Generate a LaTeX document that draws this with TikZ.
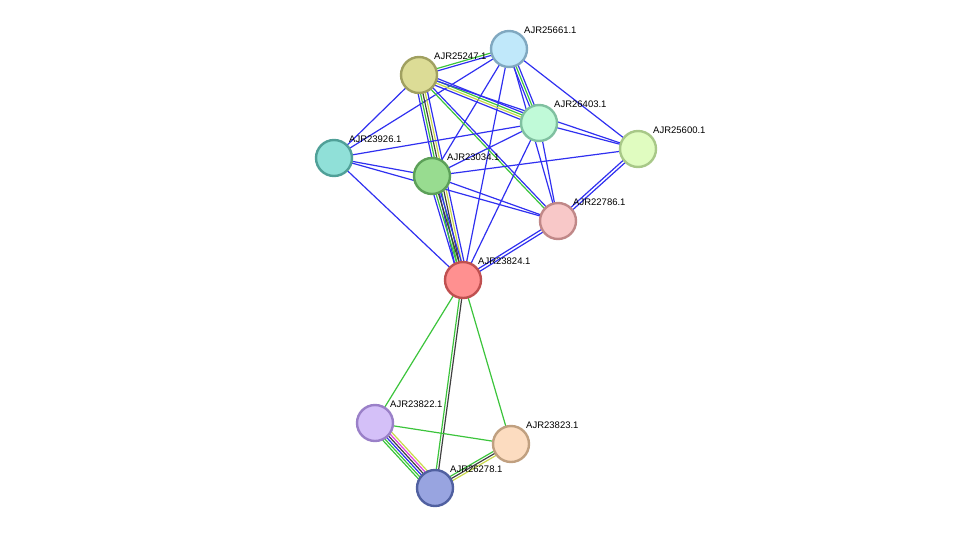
\documentclass[tikz,border=0pt]{standalone}
\usepackage{fontspec}
\setmainfont{Liberation Sans}
\usetikzlibrary{calc}

\definecolor{sgreen}{HTML}{3CC43C}
\definecolor{sblue}{HTML}{3030F0}
\definecolor{syellow}{HTML}{C8D84A}
\definecolor{sblack}{HTML}{404040}
\definecolor{spink}{HTML}{E040E0}

\tikzset{
  edge/.style={line width=1.2pt},
  prot/.style={circle, minimum size=36pt, inner sep=0pt, line width=2.4pt},
  plabel/.style={anchor=south west, inner sep=1pt, font=\fontsize{9.5}{10}\selectfont}
}

% one connector as several parallel coloured lines: colour/offset
\newcommand\bundle[3]{%
  \foreach \c/\o in {#3} {
    \draw[edge,\c] ($(#1)!\o pt!90:(#2)$) -- ($(#2)!\o pt!-90:(#1)$);
  }%
}

% one protein: name, fill, border, label
\newcommand\protein[4]{%
  \definecolor{f#1}{HTML}{#2}\definecolor{d#1}{HTML}{#3}%
  \node[prot, fill=f#1, draw=d#1] (n#1) at (#1) {};
  \node[plabel] (l#1) at ($(#1)+(14,-14)$) {#4};
}

\begin{document}
\begin{tikzpicture}[x=1pt,y=-1pt]
\useasboundingbox (0,0) rectangle (976,533);

% protein positions (pixels)
\coordinate (p25661) at (509,49);
\coordinate (p25247) at (419,75);
\coordinate (p26403) at (539,123);
\coordinate (p25600) at (638,149);
\coordinate (p23926) at (334,158);
\coordinate (p23034) at (432,176);
\coordinate (p22786) at (558,221);
\coordinate (p23824) at (463,280);
\coordinate (p23822) at (375,423);
\coordinate (p23823) at (511,444);
\coordinate (p26278) at (435,488);

% connectors
\bundle{p25661}{p25247}{sgreen/-1.2,sblue/1.2}
\bundle{p25661}{p26403}{sblue/-2.4,sgreen/0,sblue/2.4}
\bundle{p25661}{p23926}{sblue/0}
\bundle{p25661}{p23034}{sblue/0}
\bundle{p25661}{p23824}{sblue/0}
\bundle{p25661}{p22786}{sblue/0}
\bundle{p25661}{p25600}{sblue/0}
\bundle{p25247}{p26403}{sblue/-3.6,syellow/-1.2,sgreen/1.2,sblue/3.6}
\bundle{p25247}{p23926}{sblue/0}
\bundle{p25247}{p23824}{sblue/-4.8,sgreen/-2.4,sblack/0,syellow/2.4,sblue/4.8}
\bundle{p25247}{p22786}{sgreen/-1.2,sblue/1.2}
\bundle{p25247}{p25600}{sblue/0}
\bundle{p26403}{p23926}{sblue/0}
\bundle{p26403}{p23034}{sblue/0}
\bundle{p26403}{p25600}{sblue/0}
\bundle{p26403}{p22786}{sblue/0}
\bundle{p26403}{p23824}{sblue/0}
\bundle{p23926}{p23034}{sblue/0}
\bundle{p23926}{p22786}{sblue/0}
\bundle{p23926}{p23824}{sblue/0}
\bundle{p23034}{p22786}{sblue/0}
\bundle{p23034}{p23824}{sblue/-3.6,sgreen/-1.2,sblack/1.2,sblue/3.6}
\bundle{p23034}{p25600}{sblue/0}
\bundle{p25600}{p22786}{sblue/-1.5,sblue/1.5}
\bundle{p22786}{p23824}{sblue/-1.5,sblue/1.5}
\bundle{p23824}{p23822}{sgreen/0}
\bundle{p23824}{p23823}{sgreen/0}
\bundle{p23824}{p26278}{sgreen/-1.2,sblack/1.2}
\bundle{p23822}{p26278}{sgreen/-6,sgreen/-3.6,sblue/-1.2,sblack/1.2,spink/3.6,syellow/6}
\bundle{p23822}{p23823}{sgreen/0}
\bundle{p23823}{p26278}{sgreen/-2.4,sblack/0,syellow/2.4}

% proteins
\protein{p25247}{DCDC96}{A0A060}{AJR25247.1}
\protein{p25661}{C0E8FA}{80A8C0}{AJR25661.1}
\protein{p26403}{C0FAD8}{80C0A0}{AJR26403.1}
\protein{p25600}{E0FCC0}{A8C888}{AJR25600.1}
\protein{p23926}{90E0D8}{50A098}{AJR23926.1}
\protein{p23034}{98DC90}{5CA058}{AJR23034.1}
\protein{p22786}{F8C8C8}{C08888}{AJR22786.1}
\protein{p23824}{FF9090}{C05050}{AJR23824.1}
\protein{p23822}{D4C0F8}{9A80C8}{AJR23822.1}
\protein{p23823}{FCDCC0}{C0A080}{AJR23823.1}
\protein{p26278}{98A4E0}{5060A0}{AJR26278.1}

\end{tikzpicture}
\end{document}
